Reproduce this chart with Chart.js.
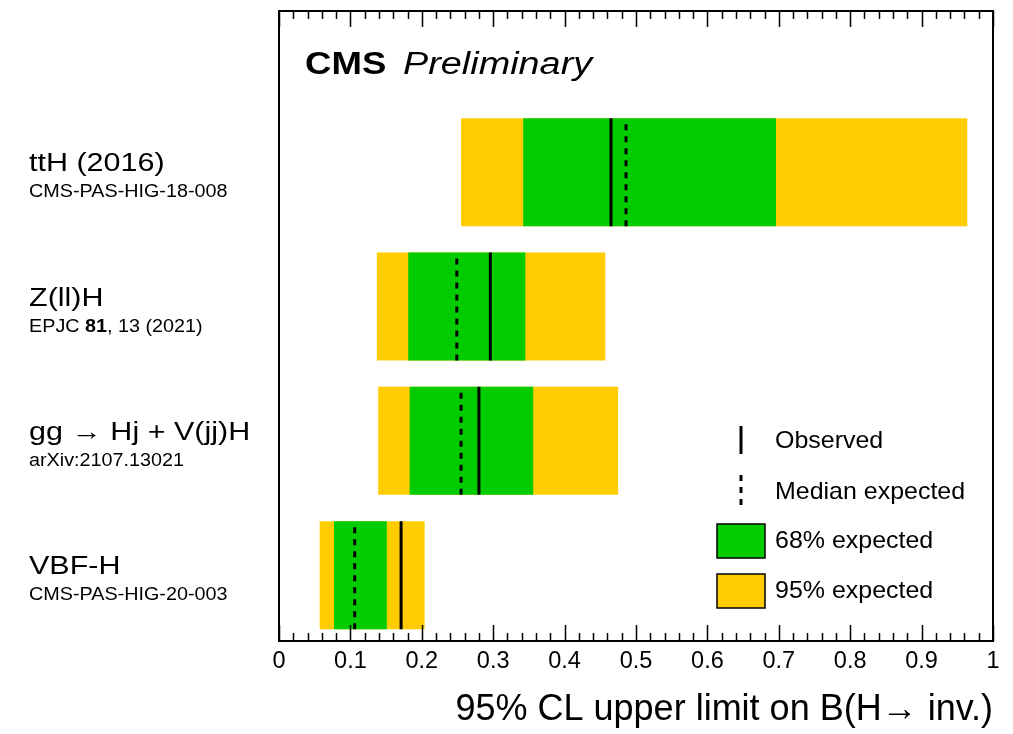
<!DOCTYPE html>
<html>
<head>
<meta charset="utf-8">
<script src="https://cdn.jsdelivr.net/npm/chart.js@4/dist/chart.umd.min.js"></script>
<style>
  html, body { margin: 0; padding: 0; background: #fff; }
</style>
</head>
<body>
<canvas id="limits" width="1013" height="734"></canvas>
<script>
// channels, top to bottom
const channels = ['ttH (2016)', 'Z(ll)H', 'gg \u2192 Hj + V(jj)H', 'VBF-H'];
const references = ['CMS-PAS-HIG-18-008', 'EPJC **81**, 13 (2021)', 'arXiv:2107.13021', 'CMS-PAS-HIG-20-003'];

// 95% CL upper limits on B(H -> inv.)
const observed = [0.465, 0.296, 0.280, 0.171];
const expected = [0.486, 0.249, 0.255, 0.106];
const lo68 = [0.342, 0.181, 0.183, 0.077];
const hi68 = [0.696, 0.345, 0.356, 0.151];
const lo95 = [0.255, 0.137, 0.139, 0.057];
const hi95 = [0.964, 0.457, 0.475, 0.204];

const legendLabels = ['Observed', 'Median expected', '68% expected', '95% expected'];
const axisTitle = '95% CL upper limit on B(H\u2192 inv.)';

const GREEN = '#00cc00';
const YELLOW = '#ffcc00';
const FONT = '"Liberation Sans", Arial, Helvetica, sans-serif';
const HALF = 0.402;   // half bar height in category units

const n = channels.length;
const yPos = i => n - 1 - i;

const band = (lo, hi) => channels.map((c, i) => ({ y: yPos(i), x: [lo[i], hi[i]] }));
const ticksAt = (vals) => {
    const pts = [];
    vals.forEach((v, i) => {
        pts.push({ x: v, y: yPos(i) - HALF });
        pts.push({ x: v, y: yPos(i) + HALF });
        pts.push({ x: null, y: null });
    });
    return pts;
};

function wideText(ctx, text, x, y, sx) {
    ctx.save();
    ctx.translate(x, y);
    ctx.scale(sx, 1);
    ctx.fillText(text, 0, 0);
    ctx.restore();
    return ctx.measureText(text).width * sx;
}

const decorations = {
    id: 'decorations',
    afterDraw(chart) {
        const { ctx, chartArea: a, scales: { x, y } } = chart;
        ctx.save();

        // frame
        ctx.strokeStyle = '#000';
        ctx.lineWidth = 2;
        ctx.strokeRect(a.left, a.top, a.right - a.left, a.bottom - a.top);

        // inward ticks top and bottom
        ctx.lineWidth = 1.5;
        for (let k = 0; k <= 50; k++) {
            const px = Math.round(x.getPixelForValue(k / 50)) + 0.5;
            const len = k % 5 === 0 ? 16 : 8;
            ctx.beginPath();
            ctx.moveTo(px, a.bottom); ctx.lineTo(px, a.bottom - len);
            ctx.moveTo(px, a.top); ctx.lineTo(px, a.top + len);
            ctx.stroke();
        }

        // CMS Preliminary
        ctx.fillStyle = '#000';
        ctx.textBaseline = 'alphabetic';
        ctx.textAlign = 'left';
        ctx.font = 'bold 31px ' + FONT;
        wideText(ctx, 'CMS', 305, 74, 1.18);
        ctx.font = 'italic 31px ' + FONT;
        wideText(ctx, 'Preliminary', 403, 74, 1.22);

        // channel labels
        channels.forEach((name, i) => {
            const cy = y.getPixelForValue(yPos(i));
            ctx.font = '25px ' + FONT;
            wideText(ctx, name, 29, cy - 1, 1.22);
            let cx = 29;
            references[i].split('**').forEach((part, j) => {
                ctx.font = (j % 2 ? 'bold ' : '') + '17.5px ' + FONT;
                cx += wideText(ctx, part, cx, cy + 25, 1.13);
            });
        });

        // legend
        ctx.font = '24px ' + FONT;
        ctx.textBaseline = 'middle';
        const rows = [441, 492, 541, 591];
        ctx.lineWidth = 3;
        ctx.beginPath();
        ctx.moveTo(741, rows[0] - 15); ctx.lineTo(741, rows[0] + 13);
        ctx.stroke();
        ctx.setLineDash([6, 6]);
        ctx.beginPath();
        ctx.moveTo(741, rows[1] - 17); ctx.lineTo(741, rows[1] + 14);
        ctx.stroke();
        ctx.setLineDash([]);
        ctx.lineWidth = 1.5;
        [GREEN, YELLOW].forEach((col, k) => {
            const ry = rows[k + 2];
            ctx.fillStyle = col;
            ctx.fillRect(717, ry - 17, 48, 34);
            ctx.strokeRect(717, ry - 17, 48, 34);
        });
        ctx.fillStyle = '#000';
        legendLabels.forEach((t, k) => wideText(ctx, t, 775, rows[k], 1.04));

        ctx.restore();
    }
};

new Chart(document.getElementById('limits'), {
    type: 'bar',
    data: {
        datasets: [
            {
                type: 'line', label: 'Observed', data: ticksAt(observed),
                borderColor: '#000', borderWidth: 3, pointRadius: 0,
                spanGaps: false, order: 0
            },
            {
                type: 'line', label: 'Median expected', data: ticksAt(expected),
                borderColor: '#000', borderWidth: 3, borderDash: [6, 6], pointRadius: 0,
                spanGaps: false, order: 0
            },
            {
                label: '68% expected', data: band(lo68, hi68), backgroundColor: GREEN,
                grouped: false, barPercentage: 0.804, categoryPercentage: 1, order: 1
            },
            {
                label: '95% expected', data: band(lo95, hi95), backgroundColor: YELLOW,
                grouped: false, barPercentage: 0.804, categoryPercentage: 1, order: 2
            }
        ]
    },
    options: {
        indexAxis: 'y',
        responsive: false,
        animation: false,
        layout: { padding: { left: 279, right: 20, top: 11, bottom: 0 } },
        plugins: {
            legend: { display: false },
            tooltip: { enabled: false }
        },
        scales: {
            x: {
                type: 'linear',
                min: 0,
                max: 1,
                grid: { display: false, drawTicks: false },
                border: { display: false },
                ticks: {
                    stepSize: 0.1,
                    padding: 6,
                    color: '#000',
                    font: { family: FONT, size: 23.5 },
                    maxRotation: 0,
                    callback: v => String(Math.round(v * 10) / 10)
                },
                title: {
                    display: true,
                    text: axisTitle,
                    align: 'end',
                    color: '#000',
                    font: { family: FONT, size: 36 },
                    padding: { top: 0, bottom: 2 }
                },
                afterFit: s => { s.height = 93; }
            },
            y: {
                type: 'linear',
                min: -0.49,
                max: 4.2,
                offset: false,
                display: false,
                afterBuildTicks: s => { s.ticks = channels.map((c, i) => ({ value: i })); }
            }
        }
    },
    plugins: [decorations]
});
</script>
</body>
</html>
